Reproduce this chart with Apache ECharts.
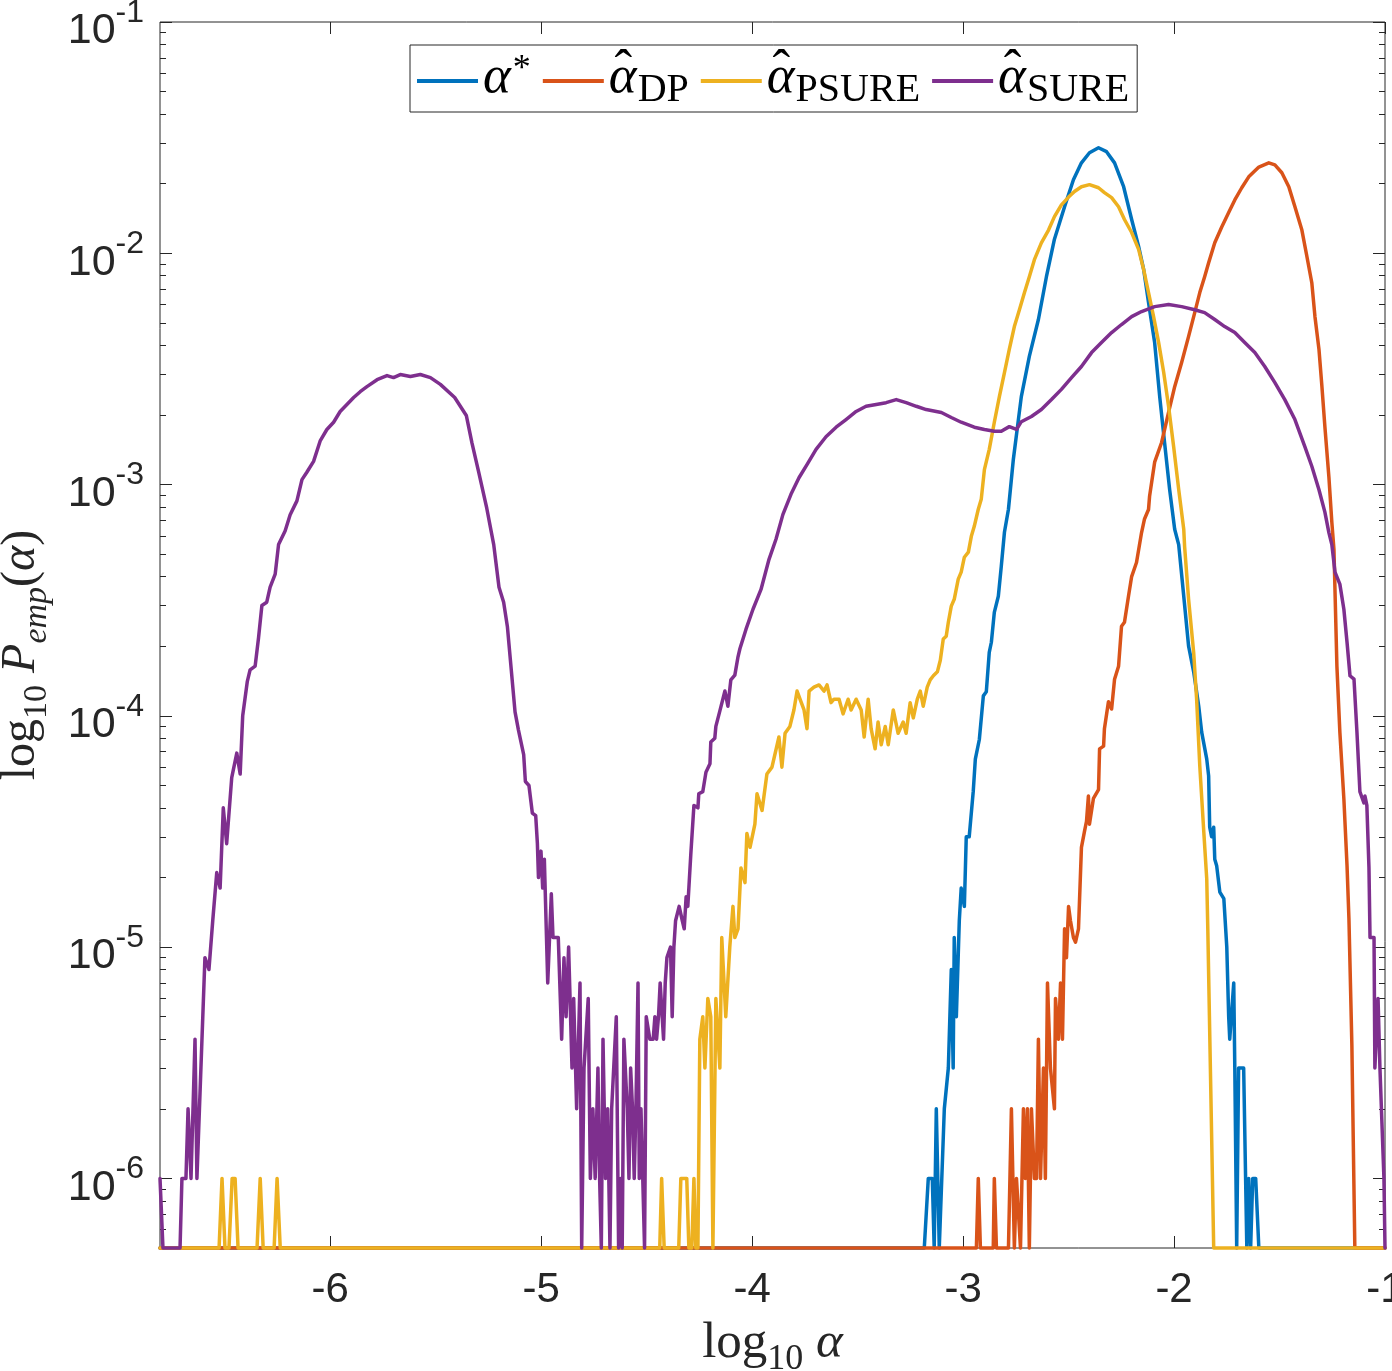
<!DOCTYPE html>
<html>
<head>
<meta charset="utf-8">
<script src="https://cdn.jsdelivr.net/npm/echarts@6.0.0/dist/echarts.min.js"></script>
<style>
  html, body { margin: 0; padding: 0; background: #fff; }
  #main { width: 1392px; height: 1371px; }
</style>
</head>
<body>
<div id="main"></div>
<script>
// empirical probability of each parameter choice, read off the figure
// [log10 alpha, P_emp]; 0 = empty bin (drawn on the axis floor)
const FLOOR = 5e-7;
const X_MIN = -6.807;
const X_MAX = -1;

const xTickValues = [-6, -5, -4, -3, -2, -1];
const yTickValues = [1e-6, 1e-5, 1e-4, 1e-3, 1e-2, 1e-1];

const alphaStar = [
  [-6.807,0],[-3.184,0],[-3.165,1e-6],[-3.146,1e-6],[-3.137,0],[-3.127,2e-6],[-3.113,0],[-3.089,2e-6],[-3.080,2e-6],[-3.070,3e-6],
  [-3.056,8e-6],[-3.047,3e-6],[-3.042,1.1e-5],[-3.032,5e-6],[-3.023,5e-6],[-3.018,1.3e-5],[-3.009,1.8e-5],[-2.994,1.5e-5],[-2.985,3.0e-5],
  [-2.971,3.0e-5],[-2.952,4.7e-5],[-2.942,6.5e-5],[-2.923,7.9e-5],[-2.904,1.22e-4],[-2.890,1.27e-4],[-2.876,1.88e-4],[-2.866,2.08e-4],
  [-2.852,2.8e-4],[-2.833,3.29e-4],[-2.819,4.43e-4],[-2.804,6.22e-4],[-2.785,7.82e-4],[-2.762,1.28e-3],[-2.724,2.4e-3],[-2.686,3.58e-3],
  [-2.643,5.17e-3],[-2.605,7.92e-3],[-2.567,1.15e-2],[-2.519,1.59e-2],[-2.477,2.08e-2],[-2.439,2.46e-2],[-2.401,2.72e-2],[-2.358,2.86e-2],
  [-2.320,2.75e-2],[-2.282,2.46e-2],[-2.239,1.94e-2],[-2.201,1.4e-2],[-2.168,1.07e-2],[-2.144,8.5e-3],[-2.121,6.12e-3],[-2.092,4.11e-3],
  [-2.068,2.4e-3],[-2.045,1.52e-3],[-2.021,9.53e-4],[-1.997,6.41e-4],[-1.978,5.5e-4],[-1.954,3.29e-4],[-1.931,2.0e-4],[-1.907,1.55e-4],
  [-1.883,1.1e-4],[-1.869,8.5e-5],[-1.845,6.5e-5],[-1.836,5.5e-5],[-1.831,3.3e-5],[-1.822,3.0e-5],[-1.812,3.3e-5],[-1.807,2.4e-5],
  [-1.798,2.25e-5],[-1.783,1.73e-5],[-1.764,1.62e-5],[-1.750,1e-5],[-1.741,5e-6],[-1.736,4e-6],[-1.717,7e-6],[-1.712,3e-6],[-1.703,0],
  [-1.694,3e-6],[-1.670,3e-6],[-1.655,0],[-1.646,1e-6],[-1.637,0],[-1.627,1e-6],[-1.613,1e-6],[-1.598,0],[-1.0,0]
];

const alphaDP = [
  [-6.807,0],[-2.937,0],[-2.928,1e-6],[-2.918,0],[-2.857,0],[-2.852,1e-6],[-2.842,0],[-2.785,0],[-2.771,2e-6],[-2.757,0],
  [-2.747,1e-6],[-2.738,1e-6],[-2.728,0],[-2.714,2e-6],[-2.705,1e-6],[-2.695,2e-6],[-2.686,0],[-2.676,2e-6],[-2.662,1e-6],[-2.652,1e-6],
  [-2.643,4e-6],[-2.633,1e-6],[-2.619,3e-6],[-2.610,1e-6],[-2.600,7e-6],[-2.586,3e-6],[-2.567,2e-6],[-2.562,6e-6],[-2.548,4e-6],
  [-2.538,7e-6],[-2.529,4e-6],[-2.519,1.2e-5],[-2.510,9e-6],[-2.500,1.5e-5],[-2.491,1.3e-5],[-2.477,1.1e-5],[-2.467,1.05e-5],
  [-2.453,1.2e-5],[-2.439,2.7e-5],[-2.425,3.15e-5],[-2.415,3.5e-5],[-2.406,4.5e-5],[-2.401,3.4e-5],[-2.382,4.4e-5],[-2.358,4.8e-5],
  [-2.353,7.2e-5],[-2.334,7.4e-5],[-2.330,8.8e-5],[-2.311,1.15e-4],[-2.296,1.07e-4],[-2.282,1.44e-4],[-2.263,1.64e-4],[-2.249,2.44e-4],
  [-2.235,2.54e-4],[-2.216,3.29e-4],[-2.201,4.0e-4],[-2.178,4.6e-4],[-2.154,6.2e-4],[-2.140,7.1e-4],[-2.121,7.8e-4],[-2.116,8.9e-4],
  [-2.092,1.25e-3],[-2.059,1.52e-3],[-2.026,2.05e-3],[-1.997,2.65e-3],[-1.964,3.37e-3],[-1.931,4.37e-3],[-1.902,5.54e-3],[-1.878,6.76e-3],
  [-1.855,7.92e-3],[-1.836,9.1e-3],[-1.807,1.11e-2],[-1.774,1.3e-2],[-1.741,1.5e-2],[-1.712,1.7e-2],[-1.679,1.92e-2],[-1.646,2.14e-2],
  [-1.598,2.36e-2],[-1.551,2.46e-2],[-1.522,2.41e-2],[-1.489,2.23e-2],[-1.456,1.94e-2],[-1.427,1.59e-2],[-1.394,1.26e-2],[-1.370,9.66e-3],
  [-1.347,7.46e-3],[-1.332,5.32e-3],[-1.313,3.84e-3],[-1.299,2.65e-3],[-1.285,1.78e-3],[-1.266,1.08e-3],[-1.252,6.87e-4],[-1.242,5.25e-4],
  [-1.228,1.64e-4],[-1.214,8.5e-5],[-1.195,4.38e-5],[-1.180,2.25e-5],[-1.171,1.33e-5],[-1.157,3.75e-6],[-1.143,0],[-1.0,0]
];

const alphaPSURE = [
  [-6.807,0],[-6.527,0],[-6.513,1e-6],[-6.499,0],[-6.480,0],[-6.465,1e-6],[-6.451,1e-6],[-6.437,0],[-6.347,0],[-6.332,1e-6],
  [-6.318,0],[-6.266,0],[-6.252,1e-6],[-6.237,0],
  [-4.438,0],[-4.429,1e-6],[-4.417,0],[-4.348,0],[-4.338,1e-6],[-4.310,1e-6],[-4.300,0],[-4.286,0],[-4.276,1e-6],[-4.267,0],
  [-4.257,0],[-4.248,4e-6],[-4.234,5e-6],[-4.224,3e-6],[-4.210,6e-6],[-4.196,5e-6],[-4.186,0],[-4.172,6e-6],[-4.153,3e-6],
  [-4.144,1.1e-5],[-4.125,5e-6],[-4.106,1e-5],[-4.091,1.5e-5],[-4.082,1.1e-5],[-4.067,1.2e-5],[-4.053,2.2e-5],[-4.034,1.9e-5],
  [-4.025,3.1e-5],[-4.010,2.7e-5],[-3.987,3.4e-5],[-3.977,4.6e-5],[-3.953,3.9e-5],[-3.930,5.6e-5],[-3.906,6.0e-5],[-3.873,8.1e-5],
  [-3.859,6.0e-5],[-3.844,8.4e-5],[-3.821,9.0e-5],[-3.802,1.06e-4],[-3.787,1.28e-4],[-3.773,1.18e-4],[-3.754,1.06e-4],[-3.740,8.8e-5],
  [-3.730,1.28e-4],[-3.707,1.33e-4],[-3.683,1.36e-4],[-3.659,1.28e-4],[-3.645,1.36e-4],[-3.626,1.14e-4],[-3.612,1.18e-4],
  [-3.588,1.18e-4],[-3.569,1.02e-4],[-3.545,1.18e-4],[-3.531,1.06e-4],[-3.507,1.18e-4],[-3.483,1.06e-4],[-3.469,8.1e-5],
  [-3.450,1.18e-4],[-3.436,8.8e-5],[-3.417,7.2e-5],[-3.403,9.4e-5],[-3.388,7.5e-5],[-3.369,9.0e-5],[-3.355,7.5e-5],[-3.331,1.06e-4],
  [-3.308,8.4e-5],[-3.284,9.4e-5],[-3.270,8.4e-5],[-3.251,1.14e-4],[-3.236,9.8e-5],[-3.217,1.18e-4],[-3.203,1.28e-4],[-3.189,1.1e-4],
  [-3.170,1.33e-4],[-3.156,1.43e-4],[-3.141,1.49e-4],[-3.122,1.55e-4],[-3.108,1.74e-4],
  [-3.094,2.15e-4],[-3.080,2.21e-4],[-3.070,2.54e-4],[-3.056,2.98e-4],[-3.042,3.19e-4],[-3.023,3.9e-4],[-3.009,4.18e-4],
  [-2.994,4.85e-4],[-2.975,5.1e-4],[-2.961,5.97e-4],[-2.947,6.6e-4],[-2.928,7.82e-4],[-2.914,8.63e-4],[-2.899,1.16e-3],
  [-2.876,1.42e-3],[-2.852,1.86e-3],[-2.828,2.4e-3],[-2.804,3.05e-3],[-2.781,3.84e-3],[-2.757,4.82e-3],[-2.733,5.7e-3],
  [-2.709,6.76e-3],[-2.686,7.92e-3],[-2.662,9.38e-3],[-2.629,1.11e-2],[-2.595,1.26e-2],[-2.567,1.44e-2],[-2.534,1.62e-2],
  [-2.500,1.75e-2],[-2.472,1.85e-2],[-2.439,1.94e-2],[-2.401,1.98e-2],[-2.358,1.92e-2],[-2.330,1.83e-2],[-2.296,1.74e-2],
  [-2.263,1.59e-2],[-2.235,1.4e-2],[-2.201,1.23e-2],[-2.168,1.04e-2],[-2.144,8.5e-3],[-2.121,6.76e-3],[-2.097,5.32e-3],
  [-2.073,4.11e-3],[-2.049,3.05e-3],[-2.026,2.18e-3],[-2.002,1.46e-3],[-1.978,9.53e-4],[-1.954,6.41e-4],[-1.950,5.4e-4],
  [-1.931,3.19e-4],[-1.907,1.88e-4],[-1.893,1.18e-4],[-1.878,6.07e-5],[-1.859,3.15e-5],[-1.845,1.97e-5],[-1.840,1.2e-5],
  [-1.812,0],[-1.0,0]
];

const alphaSURE = [
  [-6.807,1e-6],[-6.793,0],[-6.712,0],[-6.703,1e-6],[-6.684,1e-6],[-6.674,2e-6],[-6.660,1e-6],[-6.641,4e-6],[-6.632,1e-6],
  [-6.594,9e-6],[-6.575,8e-6],[-6.557,1.3e-5],[-6.538,2.1e-5],[-6.522,1.8e-5],[-6.507,4.0e-5],[-6.491,2.8e-5],[-6.467,5.4e-5],
  [-6.443,6.9e-5],[-6.427,5.6e-5],[-6.415,1.0e-4],[-6.393,1.41e-4],[-6.380,1.58e-4],[-6.356,1.64e-4],[-6.340,2.17e-4],[-6.324,3.0e-4],
  [-6.301,3.1e-4],[-6.285,3.6e-4],[-6.261,4.1e-4],[-6.245,5.5e-4],[-6.214,6.3e-4],[-6.190,7.4e-4],[-6.158,8.5e-4],[-6.134,1.05e-3],
  [-6.111,1.13e-3],[-6.079,1.26e-3],[-6.047,1.55e-3],[-6.016,1.73e-3],[-5.984,1.86e-3],[-5.953,2.07e-3],[-5.921,2.22e-3],
  [-5.889,2.38e-3],[-5.858,2.52e-3],[-5.826,2.65e-3],[-5.778,2.84e-3],[-5.731,2.96e-3],[-5.700,2.9e-3],[-5.668,2.99e-3],
  [-5.620,2.93e-3],[-5.573,2.99e-3],[-5.525,2.9e-3],[-5.478,2.71e-3],[-5.410,2.38e-3],[-5.355,1.99e-3],[-5.328,1.51e-3],
  [-5.296,1.13e-3],[-5.258,7.9e-4],[-5.225,5.5e-4],[-5.200,3.6e-4],[-5.178,3.1e-4],[-5.160,2.42e-4],
  [-5.124,1.04e-4],[-5.108,8.7e-5],[-5.083,6.8e-5],[-5.075,5.2e-5],[-5.058,5.0e-5],[-5.042,3.8e-5],[-5.026,3.7e-5],[-5.018,2.8e-5],
  [-5.013,2.0e-5],[-5.001,2.6e-5],[-4.993,1.8e-5],[-4.985,2.4e-5],[-4.969,7e-6],[-4.952,1.7e-5],[-4.944,1.1e-5],[-4.919,1.1e-5],
  [-4.903,4e-6],[-4.892,9e-6],[-4.882,5e-6],[-4.870,1e-5],[-4.854,3e-6],[-4.846,6e-6],[-4.832,2e-6],[-4.816,7e-6],[-4.808,0],
  [-4.797,3e-6],[-4.788,3e-6],[-4.777,6e-6],[-4.767,1e-6],[-4.755,2e-6],[-4.744,1e-6],[-4.731,3e-6],[-4.723,1e-6],[-4.715,0],
  [-4.707,4e-6],[-4.695,1e-6],[-4.685,2e-6],[-4.674,0],[-4.666,2e-6],[-4.657,2e-6],[-4.644,5e-6],[-4.633,0],[-4.624,1e-6],
  [-4.616,0],[-4.608,4e-6],[-4.600,4e-6],[-4.592,2e-6],[-4.584,1e-6],[-4.576,3e-6],[-4.567,2e-6],[-4.559,1e-6],[-4.551,2e-6],
  [-4.541,7e-6],[-4.535,1e-6],[-4.527,2e-6],[-4.518,2e-6],[-4.510,0],[-4.502,5e-6],[-4.485,4e-6],[-4.469,4e-6],[-4.461,5e-6],
  [-4.453,4e-6],[-4.444,5e-6],[-4.436,7e-6],[-4.428,7e-6],[-4.420,4e-6],[-4.412,7e-6],[-4.404,9e-6],[-4.396,9e-6],[-4.387,1e-5],
  [-4.379,5e-6],[-4.371,1e-5],[-4.363,1.3e-5],[-4.346,1.5e-5],[-4.331,1.3e-5],[-4.322,1.2e-5],[-4.313,1.65e-5],[-4.305,1.5e-5],
  [-4.291,2.5e-5],[-4.276,4.1e-5],[-4.257,4.0e-5],[-4.253,4.6e-5],[-4.234,4.7e-5],[-4.219,5.7e-5],[-4.200,6.2e-5],[-4.196,7.7e-5],
  [-4.177,8.0e-5],[-4.172,9.0e-5],[-4.153,1.05e-4],[-4.129,1.28e-4],[-4.115,1.1e-4],[-4.101,1.43e-4],[-4.082,1.5e-4],[-4.067,1.8e-4],
  [-4.058,1.95e-4],[-4.029,2.37e-4],[-3.996,2.89e-4],[-3.958,3.52e-4],[-3.920,4.75e-4],[-3.887,5.8e-4],[-3.854,7.43e-4],
  [-3.816,9.07e-4],[-3.778,1.07e-3],[-3.740,1.22e-3],[-3.697,1.42e-3],[-3.650,1.61e-3],[-3.602,1.77e-3],[-3.555,1.91e-3],
  [-3.507,2.07e-3],[-3.460,2.18e-3],[-3.412,2.22e-3],[-3.365,2.26e-3],[-3.317,2.33e-3],[-3.270,2.26e-3],[-3.222,2.18e-3],
  [-3.175,2.11e-3],[-3.127,2.07e-3],[-3.103,2.05e-3],[-3.056,1.95e-3],[-3.009,1.86e-3],[-2.947,1.77e-3],[-2.899,1.73e-3],
  [-2.852,1.70e-3],[-2.819,1.70e-3],[-2.781,1.78e-3],[-2.747,1.73e-3],[-2.724,1.87e-3],[-2.676,1.97e-3],[-2.629,2.11e-3],
  [-2.581,2.33e-3],[-2.534,2.58e-3],[-2.486,2.9e-3],[-2.439,3.24e-3],[-2.391,3.72e-3],[-2.344,4.11e-3],[-2.296,4.54e-3],
  [-2.249,4.92e-3],[-2.201,5.32e-3],[-2.154,5.6e-3],[-2.092,5.88e-3],[-2.026,6.0e-3],[-1.964,5.88e-3],[-1.902,5.7e-3],
  [-1.855,5.54e-3],[-1.807,5.17e-3],[-1.760,4.82e-3],[-1.712,4.54e-3],[-1.665,4.11e-3],[-1.617,3.72e-3],[-1.570,3.24e-3],
  [-1.522,2.76e-3],[-1.475,2.33e-3],[-1.427,1.91e-3],[-1.380,1.46e-3],[-1.347,1.2e-3],[-1.313,9.5e-4],[-1.285,7.6e-4],
  [-1.266,6.2e-4],[-1.252,5.5e-4],[-1.237,4.18e-4],[-1.214,3.71e-4],[-1.195,2.89e-4],[-1.180,2.08e-4],[-1.166,1.49e-4],
  [-1.147,1.44e-4],[-1.133,8.5e-5],[-1.119,4.7e-5],[-1.100,4.2e-5],[-1.095,4.5e-5],[-1.086,4.1e-5],[-1.076,2.2e-5],
  [-1.071,1.1e-5],[-1.052,1.1e-5],[-1.048,3e-6],[-1.033,6e-6],[-1.024,3e-6],[-1.005,1e-6],[-1.0,0]
];

// MATLAB default line colours
const COLORS = ['#0072BD', '#D95319', '#EDB120', '#7E2F8E'];
const AXIS_COLOR = '#262626';

// minor ticks of the log axis at 2..9 x 10^n
const yMinorValues = [];
for (let e = -7; e <= -2; e++) {
  for (let m = 2; m <= 9; m++) {
    const v = m * Math.pow(10, e);
    if (v > FLOOR * 1.01 && v < 0.1) yMinorValues.push(v);
  }
}

// hat is drawn as a zero-width token centred back over the alpha
const legendText = {
  astar: '{a|α}{sup|*}',
  dp: '{a|α}{hat|ˆ\u2002}{sub|DP}',
  psure: '{a|α}{hat|ˆ\u2002}{sub|PSURE}',
  sure: '{a|α}{hat|ˆ\u2002}{sub|SURE}'
};

function makeSeries(name, pts, color) {
  return {
    name: name,
    type: 'line',
    data: pts.map(function (d) { return [d[0], d[1] > 0 ? d[1] : FLOOR]; }),
    showSymbol: false,
    symbol: 'none',
    clip: false,
    lineStyle: { color: color, width: 3.5, join: 'round', cap: 'round' },
    itemStyle: { color: color },
    emphasis: { disabled: true }
  };
}

function yAxisDef(position, values, len, withLabels) {
  return {
    type: 'log',
    logBase: 10,
    min: FLOOR,
    max: 0.1,
    position: position,
    axisLine: { show: false },
    splitLine: { show: false },
    minorTick: { show: false },
    axisTick: { inside: true, length: len, customValues: values, lineStyle: { color: AXIS_COLOR, width: 1 } },
    axisLabel: withLabels ? {
      customValues: yTickValues,
      margin: 16,
      color: AXIS_COLOR,
      formatter: function (v) {
        return '{b|10}{s|' + Math.round(Math.log10(v)) + '}';
      },
      rich: {
        b: { fontFamily: 'Liberation Sans', fontSize: 43, lineHeight: 62, color: AXIS_COLOR, verticalAlign: 'bottom' },
        s: { fontFamily: 'Liberation Sans', fontSize: 32, lineHeight: 32, color: AXIS_COLOR, verticalAlign: 'top', padding: [6, 0, 0, 0] }
      }
    } : { show: false }
  };
}

function xAxisDef(position, withLabels) {
  return {
    type: 'value',
    min: X_MIN,
    max: X_MAX,
    position: position,
    axisLine: { show: false, onZero: false },
    splitLine: { show: false },
    axisTick: { inside: true, length: 12, customValues: xTickValues, lineStyle: { color: AXIS_COLOR, width: 1 } },
    axisLabel: withLabels ? {
      customValues: xTickValues,
      margin: 21,
      fontFamily: 'Liberation Sans',
      fontSize: 42,
      color: AXIS_COLOR,
      formatter: function (v) { return String(v); }
    } : { show: false }
  };
}

function titleRich(size, subSize, lineH) {
  return {
    r: { fontFamily: 'Liberation Serif', fontSize: size, lineHeight: lineH, color: AXIS_COLOR, verticalAlign: 'top' },
    i: { fontFamily: 'Liberation Serif', fontStyle: 'italic', fontSize: size, lineHeight: lineH, color: AXIS_COLOR, verticalAlign: 'top' },
    rs: { fontFamily: 'Liberation Serif', fontSize: subSize, lineHeight: subSize, color: AXIS_COLOR, verticalAlign: 'bottom' },
    is: { fontFamily: 'Liberation Serif', fontStyle: 'italic', fontSize: subSize, lineHeight: subSize, color: AXIS_COLOR, verticalAlign: 'bottom' }
  };
}

const xBottom = xAxisDef('bottom', true);
xBottom.name = '{r|log}{rs|10}{r| }{i|α}';
xBottom.nameLocation = 'middle';
xBottom.nameGap = 70;
xBottom.nameTextStyle = { rich: titleRich(51, 36, 60) };

const yLeft = yAxisDef('left', yTickValues, 12, true);
yLeft.name = '{r|log}{rs|10}{i| P}{is|emp}{r|(}{i|α}{r|)}';
yLeft.nameLocation = 'middle';
yLeft.nameGap = 106;
yLeft.nameRotate = 90;
yLeft.nameTextStyle = { rich: titleRich(48, 34, 57), padding: [0, 40, 0, 0] };

const chart = echarts.init(document.getElementById('main'));

const option = {
  animation: false,
  backgroundColor: '#ffffff',
  grid: {
    left: 160, right: 7, top: 22, bottom: 123,
    containLabel: false,
    outerBoundsMode: 'none',
    show: true,
    backgroundColor: '#ffffff',
    borderColor: AXIS_COLOR,
    borderWidth: 1
  },
  legend: {
    left: 410,
    top: 45,
    orient: 'horizontal',
    data: ['astar', 'dp', 'psure', 'sure'],
    icon: 'rect',
    itemWidth: 61,
    itemHeight: 4,
    itemGap: 12,
    padding: [1, 8, 2, 7],
    borderColor: AXIS_COLOR,
    borderWidth: 1,
    backgroundColor: '#ffffff',
    selectedMode: false,
    formatter: function (name) { return legendText[name]; },
    textStyle: {
      color: '#000',
      rich: {
        a: { fontFamily: 'Liberation Serif', fontStyle: 'italic', fontSize: 53, lineHeight: 58, color: '#000', verticalAlign: 'top' },
        hat: { fontFamily: 'Liberation Serif', fontSize: 53, lineHeight: 53, width: 0.01, align: 'center', color: '#000', verticalAlign: 'top', padding: [-6, 0, 0, 0] },
        sup: { fontFamily: 'Liberation Serif', fontSize: 36, lineHeight: 36, color: '#000', verticalAlign: 'top', padding: [0, 0, 0, 2] },
        sub: { fontFamily: 'Liberation Serif', fontSize: 40, lineHeight: 40, color: '#000', verticalAlign: 'bottom', padding: [0, 0, 0, 1] }
      }
    }
  },
  xAxis: [xBottom, xAxisDef('top', false)],
  yAxis: [
    yLeft,
    yAxisDef('left', yMinorValues, 6, false),
    yAxisDef('right', yTickValues, 12, false),
    yAxisDef('right', yMinorValues, 6, false)
  ],
  series: [
    makeSeries('astar', alphaStar, COLORS[0]),
    makeSeries('dp', alphaDP, COLORS[1]),
    makeSeries('psure', alphaPSURE, COLORS[2]),
    makeSeries('sure', alphaSURE, COLORS[3])
  ]
};

chart.setOption(option);
</script>
</body>
</html>
